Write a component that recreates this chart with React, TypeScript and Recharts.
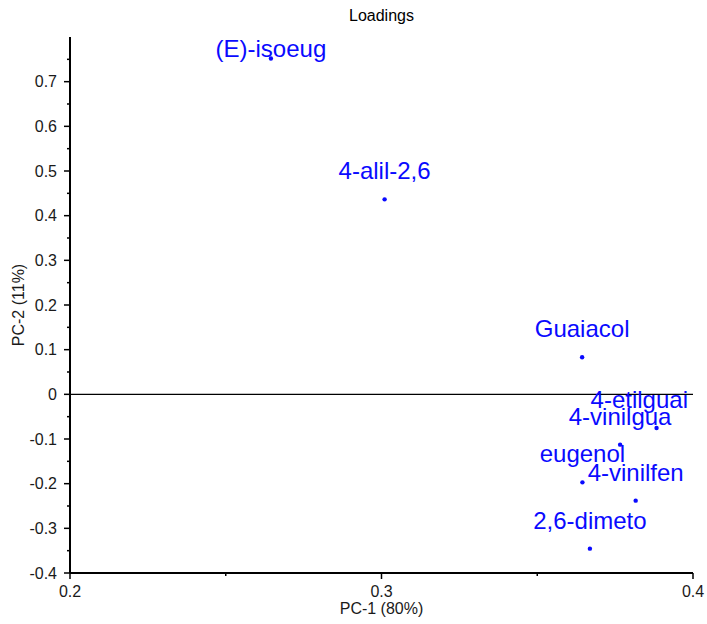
import React from 'react'
import { ScatterChart, Scatter, XAxis, YAxis, ReferenceLine } from 'recharts'

const names = ['(E)-isoeug', '4-alil-2,6', 'Guaiacol', '4-etilguai', '4-vinilgua', 'eugenol', '4-vinilfen', '2,6-dimeto']
const pc1 = [0.2645, 0.301, 0.3644, 0.3883, 0.3766, 0.3645, 0.3816, 0.3669]
const pc2 = [0.752, 0.4365, 0.083, -0.0754, -0.1126, -0.197, -0.238, -0.3455]

const xTicks = [0.2, 0.25, 0.3, 0.35, 0.4]
const xMajor = [0.2, 0.3, 0.4]
const yTicks = [-0.4, -0.35, -0.3, -0.25, -0.2, -0.15, -0.1, -0.05, 0, 0.05, 0.1, 0.15, 0.2, 0.25, 0.3, 0.35, 0.4, 0.45, 0.5, 0.55, 0.6, 0.65, 0.7, 0.75]
const yMajor = [-0.4, -0.3, -0.2, -0.1, 0, 0.1, 0.2, 0.3, 0.4, 0.5, 0.6, 0.7]

const data = names.map((name, i) => ({ name, x: pc1[i], y: pc2[i] }))

const W = 707
const H = 624
const M = { top: 37, right: 14, bottom: 11, left: 0 }
const PLOT_LEFT = 70
const PLOT_RIGHT = W - M.right
const FONT = '"Liberation Sans", Arial, sans-serif'
const BLUE = '#0a0aff'
const INK = '#1a1a1a'

let ctx: CanvasRenderingContext2D | null = null
function textWidth(s: string, size: number) {
  if (!ctx) ctx = document.createElement('canvas').getContext('2d')
  if (!ctx) return s.length * size * 0.5
  ctx.font = `${size}px ${FONT}`
  return ctx.measureText(s).width
}

const isMajor = (list: number[], v: number) => list.some(m => Math.abs(m - v) < 1e-9)
const fmt = (v: number) => String(Number(v.toFixed(2)))

function XTick(props: any) {
  const { x, y, payload } = props
  const v = payload.value
  const major = isMajor(xMajor, v)
  return (
    <g>
      <line x1={x} x2={x} y1={y - 8} y2={major ? y - 2 : y - 5} stroke="#000" strokeWidth={1.5} />
      {major && (
        <text x={x} y={y + 16} textAnchor="middle" fontSize={16} fontFamily={FONT} fill={INK}>
          {fmt(v)}
        </text>
      )}
    </g>
  )
}

function YTick(props: any) {
  const { x, y, payload } = props
  const v = payload.value
  const major = isMajor(yMajor, v)
  return (
    <g>
      <line x1={x + 8} x2={major ? x + 2 : x + 5} y1={y} y2={y} stroke="#000" strokeWidth={1.5} />
      {major && (
        <text x={x - 5} y={y + 5.5} textAnchor="end" fontSize={16} fontFamily={FONT} fill={INK}>
          {fmt(v)}
        </text>
      )}
    </g>
  )
}

function PointWithLabel(props: any) {
  const { cx, cy, payload } = props
  const size = 24
  const w = textWidth(payload.name, size)
  let lx = cx
  if (lx + w / 2 > PLOT_RIGHT - 5) lx = PLOT_RIGHT - 5 - w / 2
  if (lx - w / 2 < PLOT_LEFT + 2) lx = PLOT_LEFT + 2 + w / 2
  const ly = Math.max(cy - 20, M.top + 20)
  return (
    <g>
      <circle cx={cx} cy={cy} r={2.2} fill={BLUE} />
      <text x={lx} y={ly} textAnchor="middle" fontSize={size} fontFamily={FONT} fill={BLUE}>
        {payload.name}
      </text>
    </g>
  )
}

export default function App() {
  return (
    <div style={{ position: 'absolute', left: 0, top: 0, width: W, height: H, background: '#fff' }}>
      <div
        style={{
          position: 'absolute', left: PLOT_LEFT, width: PLOT_RIGHT - PLOT_LEFT, top: 6,
          textAlign: 'center', fontFamily: FONT, fontSize: 16, lineHeight: '20px', color: '#000',
        }}
      >
        Loadings
      </div>
      <ScatterChart width={W} height={H} margin={M}>
        <XAxis
          type="number"
          dataKey="x"
          domain={[0.2, 0.4]}
          ticks={xTicks}
          interval={0}
          allowDataOverflow
          tick={<XTick />}
          tickLine={false}
          axisLine={{ stroke: '#000', strokeWidth: 2 }}
          height={40}
          label={{ value: 'PC-1 (80%)', position: 'insideBottom', offset: -1, fontSize: 16, fontFamily: FONT, fill: INK }}
        />
        <YAxis
          type="number"
          dataKey="y"
          domain={[-0.4, 0.8]}
          ticks={yTicks}
          interval={0}
          allowDataOverflow
          tick={<YTick />}
          tickLine={false}
          axisLine={{ stroke: '#000', strokeWidth: 2 }}
          width={70}
          label={{ value: 'PC-2 (11%)', angle: -90, position: 'insideLeft', offset: 18, fontSize: 16, fontFamily: FONT, fill: INK, style: { textAnchor: 'middle' } }}
        />
        <ReferenceLine y={0} stroke="#000" strokeWidth={1.2} ifOverflow="extendDomain" />
        <Scatter data={data} shape={<PointWithLabel />} isAnimationActive={false} />
      </ScatterChart>
    </div>
  )
}
